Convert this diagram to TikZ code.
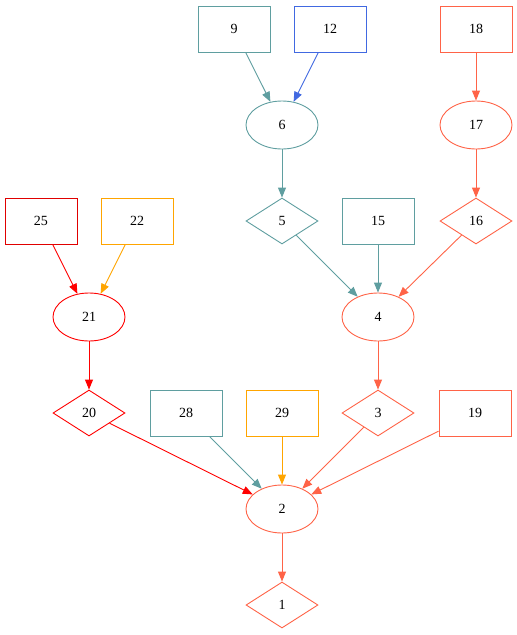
\documentclass[tikz,border=0pt]{standalone}
\usepackage{fontspec}
\setmainfont{Liberation Serif}
\usetikzlibrary{shapes.geometric,arrows.meta}
\definecolor{cteal}{HTML}{5F9EA0}
\definecolor{cblue}{HTML}{4169E1}
\definecolor{ctomato}{HTML}{FF6347}
\definecolor{corange}{HTML}{FFA500}
\definecolor{cred}{HTML}{FF0000}
\definecolor{cdred}{HTML}{E00000}
\tikzset{
  every node/.style={font=\fontsize{14}{16}\selectfont, line width=0.9pt, inner sep=0pt},
  boxn/.style={draw, rectangle, minimum width=72pt, minimum height=46pt},
  elln/.style={draw, ellipse, minimum width=72pt, minimum height=48pt},
  diam/.style={draw, diamond, aspect=1.565, minimum width=72pt, minimum height=46pt},
  conn/.style={line width=0.9pt, -{Triangle[length=10pt,width=8pt]}},
}
\begin{document}
\begin{tikzpicture}[x=1pt,y=-1pt]
\useasboundingbox (0,0) rectangle (517,635);
\node[boxn, cteal] (n9) at (234,29) {\textcolor{black}{9}};
\node[boxn, cblue] (n12) at (330,29) {\textcolor{black}{12}};
\node[boxn, ctomato] (n18) at (476,29) {\textcolor{black}{18}};
\node[elln, cteal] (n6) at (282,125) {\textcolor{black}{6}};
\node[elln, ctomato] (n17) at (476,125) {\textcolor{black}{17}};
\node[diam, cteal] (n5) at (282,221) {\textcolor{black}{5}};
\node[boxn, cteal] (n15) at (378,221) {\textcolor{black}{15}};
\node[diam, ctomato] (n16) at (476,221) {\textcolor{black}{16}};
\node[boxn, cdred] (n25) at (41,221) {\textcolor{black}{25}};
\node[boxn, corange] (n22) at (137,221) {\textcolor{black}{22}};
\node[elln, cred] (n21) at (89,317) {\textcolor{black}{21}};
\node[elln, ctomato] (n4) at (378,317) {\textcolor{black}{4}};
\node[diam, cred] (n20) at (89,413) {\textcolor{black}{20}};
\node[boxn, cteal] (n28) at (186,413) {\textcolor{black}{28}};
\node[boxn, corange] (n29) at (282,413) {\textcolor{black}{29}};
\node[diam, ctomato] (n3) at (378,413) {\textcolor{black}{3}};
\node[boxn, ctomato] (n19) at (475,413) {\textcolor{black}{19}};
\node[elln, ctomato] (n2) at (282,509) {\textcolor{black}{2}};
\node[diam, ctomato] (n1) at (282,605) {\textcolor{black}{1}};

\draw[conn, cteal] (n9) -- (n6);
\draw[conn, cblue] (n12) -- (n6);
\draw[conn, ctomato] (n18) -- (n17);
\draw[conn, cteal] (n6) -- (n5);
\draw[conn, ctomato] (n17) -- (n16);
\draw[conn, cteal] (n5) -- (n4);
\draw[conn, cteal] (n15) -- (n4);
\draw[conn, ctomato] (n16) -- (n4);
\draw[conn, cred] (n25) -- (n21);
\draw[conn, corange] (n22) -- (n21);
\draw[conn, cred] (n21) -- (n20);
\draw[conn, ctomato] (n4) -- (n3);
\draw[conn, cred] (n20) -- (n2);
\draw[conn, cteal] (n28) -- (n2);
\draw[conn, corange] (n29) -- (n2);
\draw[conn, ctomato] (n3) -- (n2);
\draw[conn, ctomato] (n19) -- (n2);
\draw[conn, ctomato] (n2) -- (n1);
\end{tikzpicture}
\end{document}
